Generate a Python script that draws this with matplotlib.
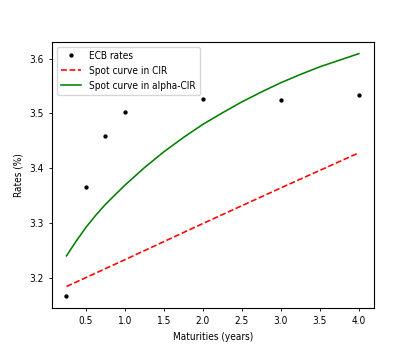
import matplotlib
matplotlib.use("Agg")
import matplotlib.pyplot as plt

ecb_maturities = [0.25, 0.5, 0.75, 1.0, 2.0, 3.0, 4.0]
ecb_rates = [3.167, 3.366, 3.459, 3.502, 3.527, 3.5235, 3.534]

cir_maturities = [0.25, 1.0, 2.0, 3.0, 4.0]
cir_rates = [3.184, 3.233, 3.299, 3.364, 3.428]

acir_maturities = [0.25, 0.375, 0.5, 0.625, 0.75, 1.0, 1.25, 1.5, 1.75, 2.0, 2.25, 2.5, 2.75, 3.0, 3.25, 3.5, 3.75, 4.0]
acir_rates = [3.240, 3.267, 3.292, 3.314, 3.334, 3.369, 3.401, 3.430, 3.456, 3.480, 3.501, 3.521, 3.539, 3.556, 3.571, 3.585, 3.597, 3.609]

fs = 7.2
plt.rcParams['font.family'] = ['DejaVu Sans']
plt.rcParams['font.stretch'] = 'condensed'
plt.rcParams['font.size'] = fs
plt.rcParams['xtick.major.size'] = 2.5
plt.rcParams['ytick.major.size'] = 2.5
plt.rcParams['xtick.major.width'] = 0.6
plt.rcParams['ytick.major.width'] = 0.6
plt.rcParams['axes.linewidth'] = 0.8

fig, ax = plt.subplots(figsize=(4.15, 3.46), dpi=100)
ax.plot(ecb_maturities, ecb_rates, 'k.', markersize=4.2, label='ECB rates')
ax.plot(cir_maturities, cir_rates, 'r--', linewidth=1.15, label='Spot curve in CIR')
ax.plot(acir_maturities, acir_rates, 'g-', linewidth=1.15, label='Spot curve in alpha-CIR')
ax.set_xlabel('Maturities (years)', fontsize=fs)
ax.set_ylabel('Rates (%)', fontsize=fs)
ax.tick_params(labelsize=fs)
ax.legend(loc='upper left', fontsize=fs)
fig.savefig('out.png', dpi=100)
